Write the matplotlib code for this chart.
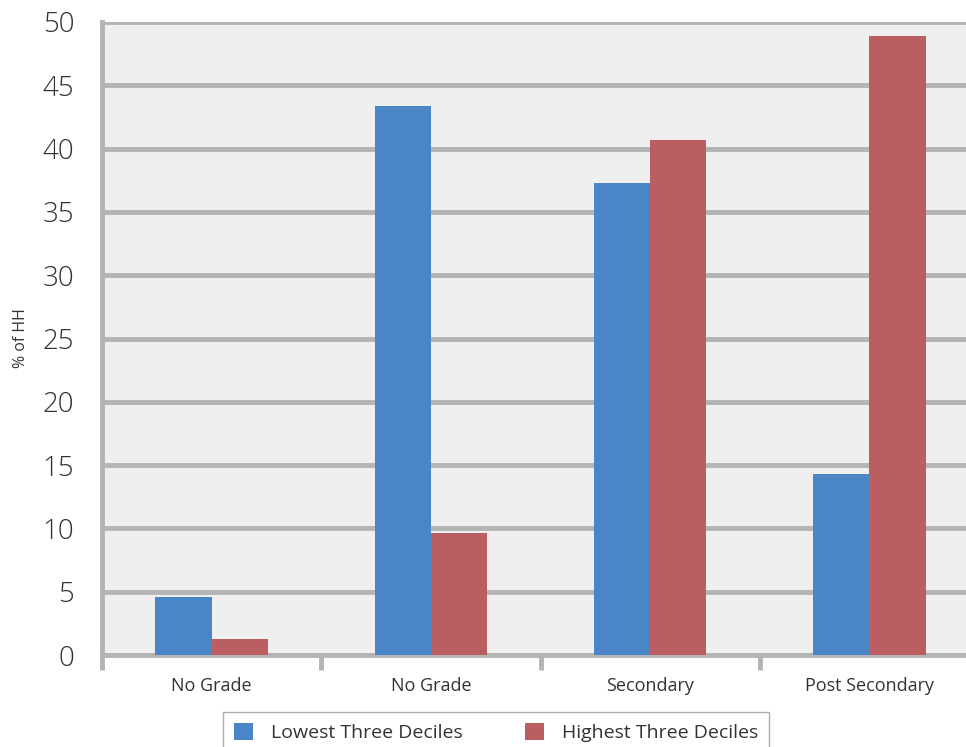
import numpy as np
import matplotlib.pyplot as plt

plt.rcParams['font.family'] = ['Open Sans', 'DejaVu Sans']

categories = ['No Grade', 'No Grade', 'Secondary', 'Post Secondary']
lowest = [4.6, 43.4, 37.3, 14.3]
highest = [1.3, 9.6, 40.7, 48.9]
series_names = ['Lowest Three Deciles', 'Highest Three Deciles']

blue = '#4a85c6'
red = '#bb5e62'
grid_grey = '#b4b4b4'
text_col = '#333333'

fig = plt.figure(figsize=(9.66, 7.47), dpi=100)
ax = fig.add_axes([102 / 966, 1 - 655 / 747, (979 - 102) / 966, (655 - 22) / 747])
ax.set_facecolor('#efefef')

x = np.arange(len(categories))
w = 0.256
ax.bar(x - w / 2, lowest, w, color=blue, label=series_names[0], zorder=3)
ax.bar(x + w / 2, highest, w, color=red, label=series_names[1], zorder=3)

ax.set_xlim(-0.5, 3.5)
ax.set_ylim(0, 50)
ax.set_yticks(np.arange(0, 51, 5))
ax.yaxis.grid(True, color=grid_grey, linewidth=3.5, zorder=1)
ax.set_axisbelow(True)

for s in ['top', 'right']:
    ax.spines[s].set_visible(False)
ax.spines['left'].set_color(grid_grey)
ax.spines['left'].set_linewidth(3.5)
ax.spines['bottom'].set_color(grid_grey)
ax.spines['bottom'].set_linewidth(3.5)

ax.tick_params(axis='y', length=0, pad=20, labelsize=20, labelcolor=text_col)
for lab in ax.get_yticklabels():
    lab.set_fontweight('light')
ax.set_xticks(x)
ax.set_xticklabels(categories)
ax.tick_params(axis='x', which='major', length=0, pad=16, labelsize=13, labelcolor=text_col)
ax.set_xticks(np.arange(-0.5, 3.6, 1), minor=True)
ax.tick_params(axis='x', which='minor', length=11, width=3.5, color=grid_grey)

ax.set_ylabel('% of HH', fontsize=11.5, color=text_col, labelpad=10)

leg = fig.legend(loc='upper center', bbox_to_anchor=(496 / 966, 1 - 712 / 747),
                 ncol=2, fontsize=14, frameon=True, fancybox=False,
                 edgecolor='#999999', handlelength=1.0, handleheight=1.0,
                 columnspacing=3.2, borderpad=0.55, handletextpad=0.9,
                 borderaxespad=0)
for t in leg.get_texts():
    t.set_color(text_col)

fig.savefig('out.png', dpi=100)
